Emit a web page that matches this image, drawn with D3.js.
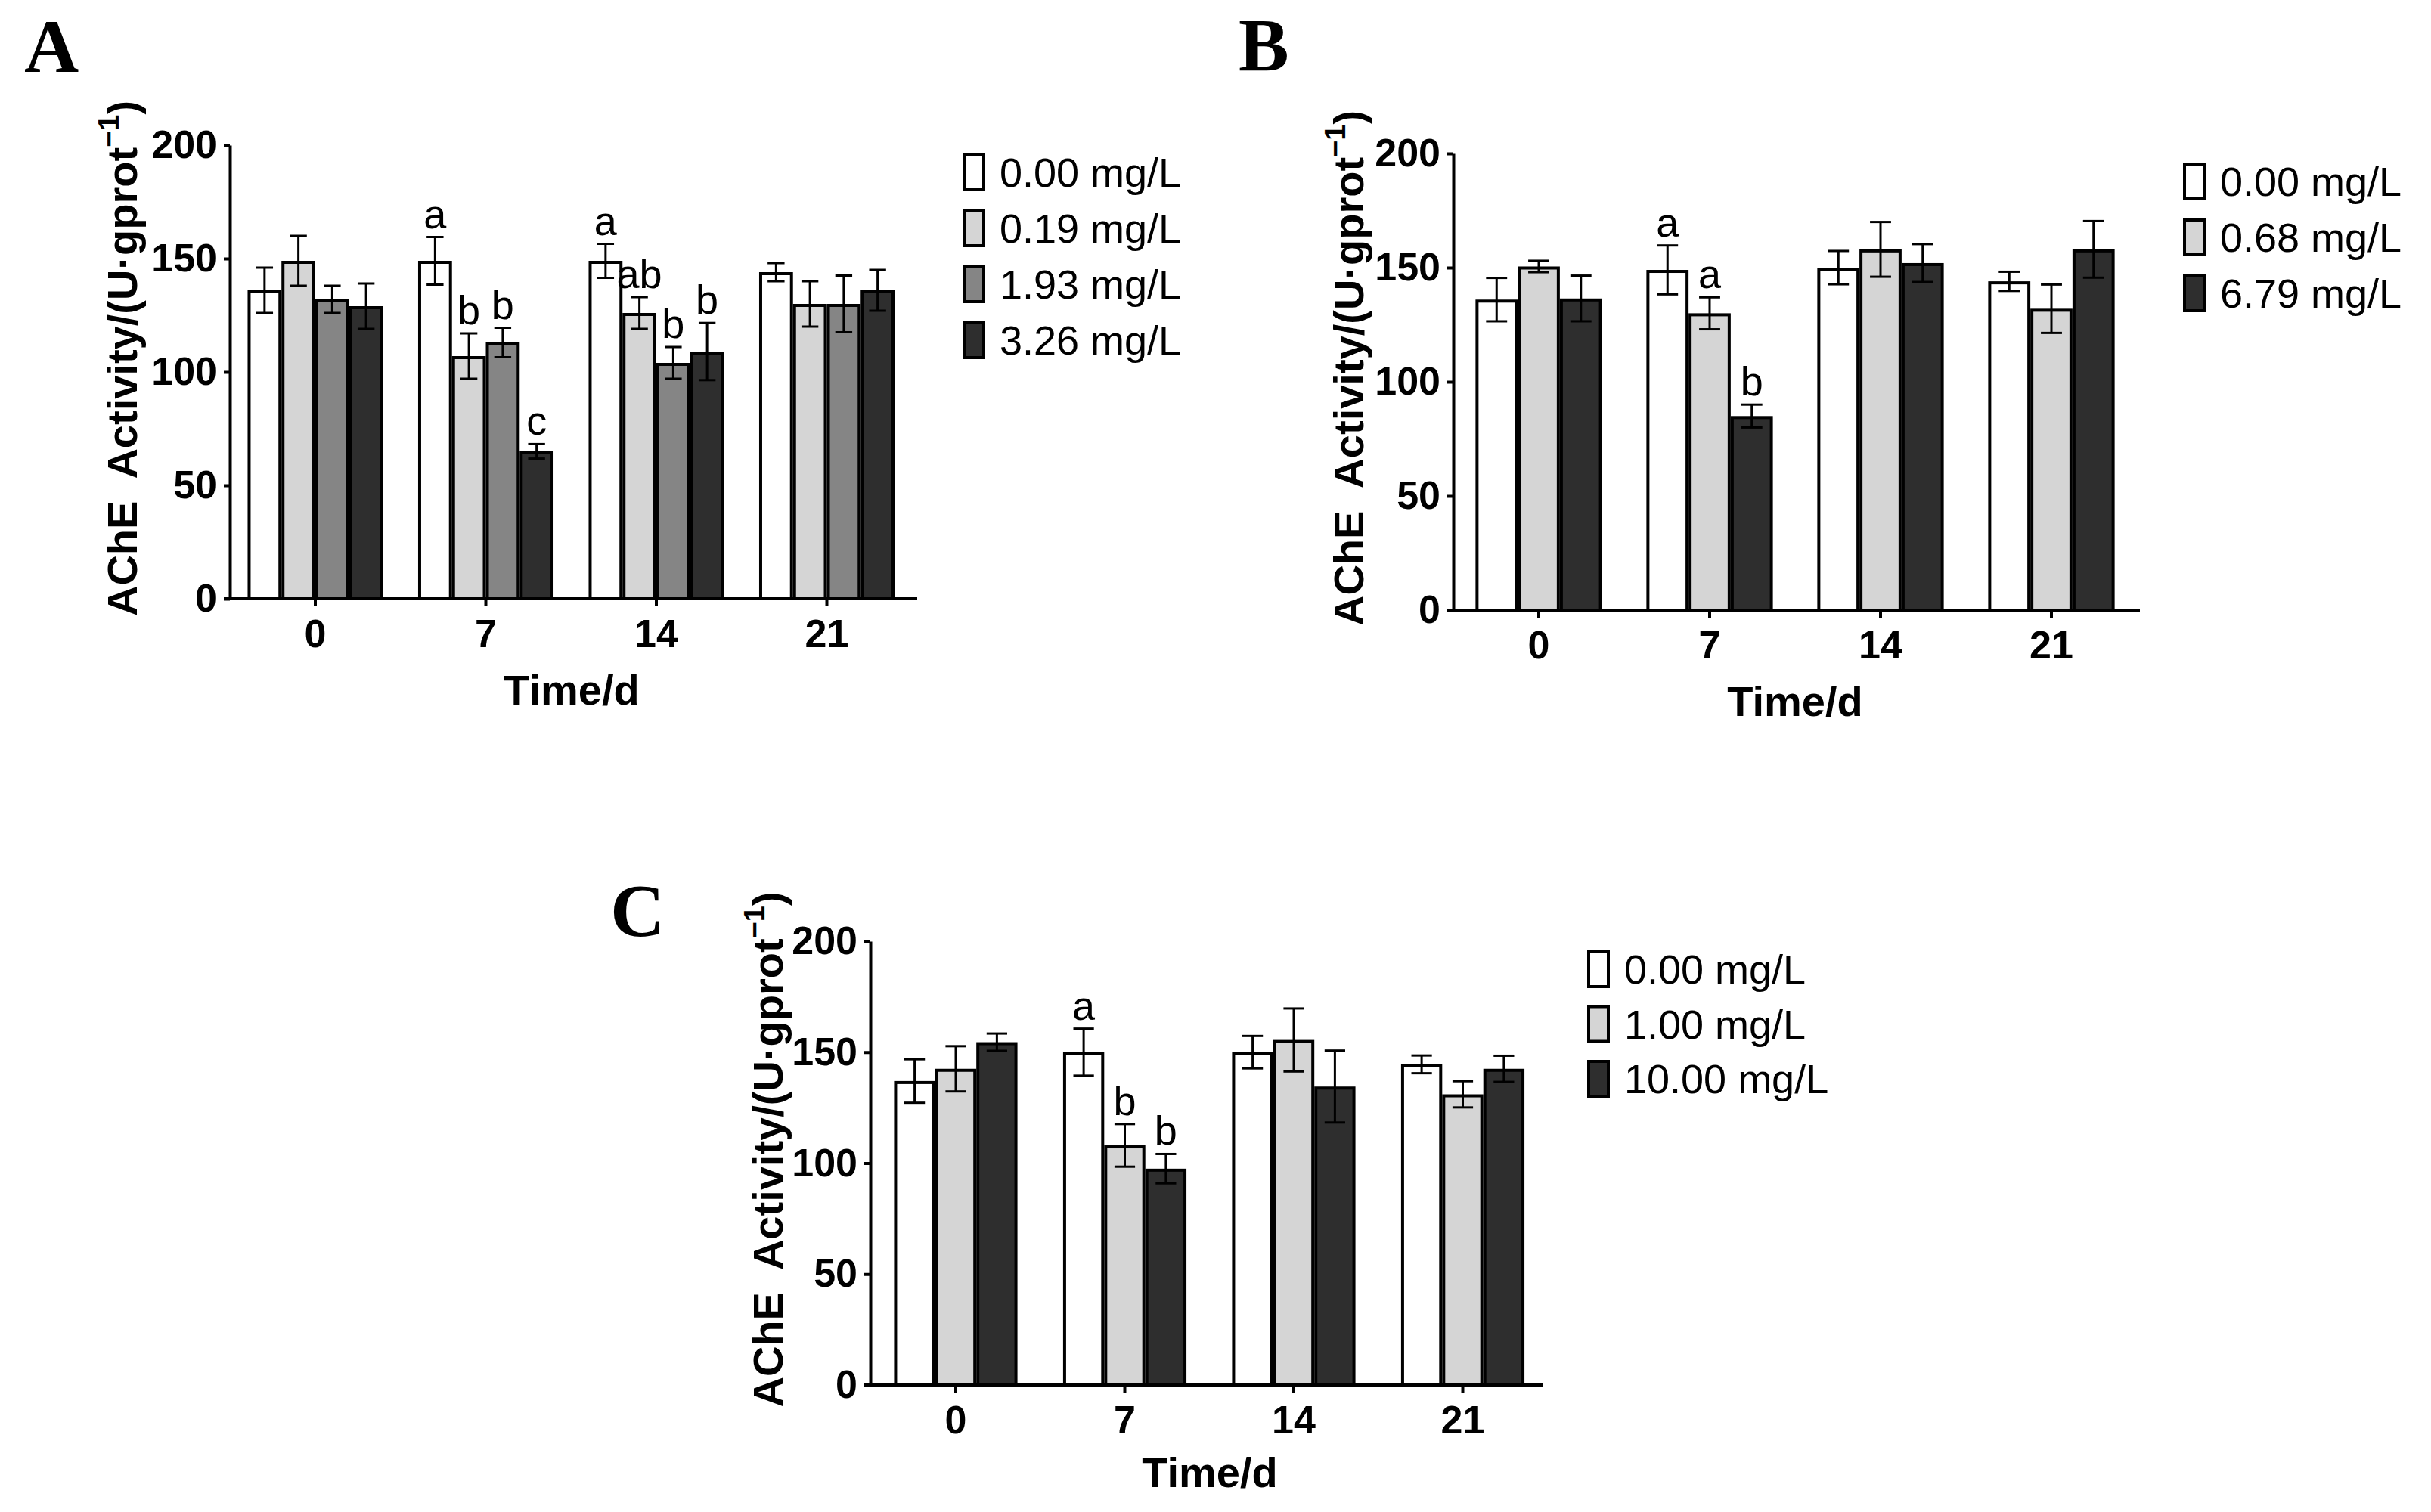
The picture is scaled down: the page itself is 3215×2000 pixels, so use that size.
<!DOCTYPE html>
<html>
<head>
<meta charset="utf-8">
<script src="https://cdn.jsdelivr.net/npm/d3@7"></script>
<style>
  body { margin: 0; background: #fff; }
  svg { display: block; }
</style>
</head>
<body>
<div id="chart-container"></div>
<script>
// Time points shared by the three panels
const days = ["0", "7", "14", "21"];
const yTicks = [0, 50, 100, 150, 200];

// Panel A: means / errors per concentration (series-major, one value per day)
const seriesA = ["0.00 mg/L", "0.19 mg/L", "1.93 mg/L", "3.26 mg/L"];
const meansA = [
    [136, 149, 149, 144],
    [149, 107, 126, 130],
    [132, 113, 104, 130],
    [129, 65, 109, 136]
];
const errA = [
    [10, 10.5, 7.5, 4],
    [11, 10, 7, 10],
    [6, 6.5, 7, 12.5],
    [10, 3.2, 12.6, 9]
];
const lettersA = [
    ["", "a", "a", ""],
    ["", "b", "ab", ""],
    ["", "b", "b", ""],
    ["", "c", "b", ""]
];

// Panel B
const seriesB = ["0.00 mg/L", "0.68 mg/L", "6.79 mg/L"];
const meansB = [
    [136, 149, 150, 144],
    [150.5, 130, 158, 132],
    [136.5, 85, 152, 158]
];
const errB = [
    [9.5, 10.7, 7.3, 4.2],
    [2.5, 7, 12, 10.6],
    [10, 5, 8.3, 12.4]
];
const lettersB = [
    ["", "a", "", ""],
    ["", "a", "", ""],
    ["", "b", "", ""]
];

// Panel C
const seriesC = ["0.00 mg/L", "1.00 mg/L", "10.00 mg/L"];
const meansC = [
    [137, 150, 150, 144.5],
    [142.5, 108, 155.5, 131],
    [154.5, 97.5, 134.5, 142.5]
];
const errC = [
    [9.8, 10.6, 7.3, 4],
    [10.2, 9.6, 14.2, 5.9],
    [3.9, 6.6, 16.2, 5.9]
];
const lettersC = [
    ["", "a", "", ""],
    ["", "b", "", ""],
    ["", "b", "", ""]
];

const white = "#ffffff", light = "#d5d5d5", mid = "#858585", dark = "#2e2e2e";

const svg = d3.select('#chart-container')
    .append('svg')
    .attr('width', 3215)
    .attr('height', 2000);

const SANS = "'Liberation Sans', Arial, sans-serif";
const SERIF = "'Liberation Serif', 'Times New Roman', serif";

function drawPanel(p) {
    const g = svg.append('g');

    // panel letter
    g.append('text')
        .attr('x', p.tag[0]).attr('y', p.tag[1])
        .attr('font-family', SERIF).attr('font-weight', 'bold')
        .attr('font-size', 100)
        .text(p.name);

    const y = d3.scaleLinear().domain([0, 200]).range([p.y0, p.y200]);

    // outer band: one per day, inner band: one per concentration
    const x = d3.scaleBand()
        .domain(days)
        .range([p.c0 - p.step / 2, p.c0 + p.step * 3.5])
        .paddingInner(p.pad)
        .paddingOuter(p.pad / 2);
    const xs = d3.scaleBand()
        .domain(p.series)
        .range([0, x.bandwidth()]);
    const bw = xs.bandwidth();

    // y axis
    const ya = g.append('g')
        .attr('transform', `translate(${p.ax},0)`)
        .call(d3.axisLeft(y).tickValues(yTicks).tickSize(8).tickSizeOuter(0).tickPadding(9));
    ya.selectAll('path, line').attr('stroke', '#000').attr('stroke-width', 4);
    ya.selectAll('text')
        .attr('font-family', SANS).attr('font-weight', 'bold')
        .attr('font-size', 52).attr('fill', '#000');

    // x axis
    const xa = g.append('g')
        .attr('transform', `translate(0,${p.y0})`)
        .call(d3.axisBottom(x).tickSize(10).tickSizeOuter(0).tickPadding(17));
    xa.select('.domain').attr('d', `M${p.ax - 8},0H${p.axEnd}`);
    xa.selectAll('path, line').attr('stroke', '#000').attr('stroke-width', 4);
    xa.selectAll('text')
        .attr('font-family', SANS).attr('font-weight', 'bold')
        .attr('font-size', 52).attr('fill', '#000');

    // bars
    p.series.forEach((s, si) => {
        const sg = g.append('g');
        sg.selectAll('rect')
            .data(days)
            .enter()
            .append('rect')
            .attr('x', d => x(d) + xs(s) + 2)
            .attr('y', (d, i) => y(p.means[si][i]) + 2)
            .attr('width', bw - 4)
            .attr('height', (d, i) => y(0) - y(p.means[si][i]) - 2)
            .attr('fill', p.fills[si])
            .attr('stroke', '#000')
            .attr('stroke-width', 4);
    });

    // error bars + letters on top of the bars
    p.series.forEach((s, si) => {
        const eg = g.append('g').attr('stroke', '#000').attr('stroke-width', 3);
        days.forEach((d, i) => {
            const cx = x(d) + xs(s) + bw / 2;
            const m = p.means[si][i], e = p.err[si][i];
            eg.append('line')
                .attr('x1', cx).attr('x2', cx)
                .attr('y1', y(m - e)).attr('y2', y(m + e));
            [m - e, m + e].forEach(v => {
                eg.append('line')
                    .attr('x1', cx - bw / 4).attr('x2', cx + bw / 4)
                    .attr('y1', y(v)).attr('y2', y(v));
            });
            const lab = p.letters[si][i];
            if (lab) {
                g.append('text')
                    .attr('x', cx).attr('y', y(m + e) - 12)
                    .attr('text-anchor', 'middle')
                    .attr('font-family', SANS).attr('font-size', 54)
                    .text(lab);
            }
        });
    });

    // y title
    const yt = g.append('text')
        .attr('transform', `translate(${p.titleX},${(p.y0 + p.y200) / 2 - 18}) rotate(-90)`)
        .attr('text-anchor', 'middle')
        .attr('font-family', SANS).attr('font-weight', 'bold')
        .attr('font-size', 56)
        .style('white-space', 'pre');
    yt.append('tspan').text('AChE  Activity/(U·gprot');
    yt.append('tspan').attr('font-size', 38).attr('dy', -24).text('−1');
    yt.append('tspan').attr('dy', 24).text(')');

    // x title
    g.append('text')
        .attr('x', p.xTitle[0]).attr('y', p.xTitle[1])
        .attr('text-anchor', 'middle')
        .attr('font-family', SANS).attr('font-weight', 'bold')
        .attr('font-size', 56)
        .text('Time/d');

    // legend
    const lg = g.append('g').attr('transform', `translate(${p.leg[0]},${p.leg[1]})`);
    p.series.forEach((s, si) => {
        const row = lg.append('g').attr('transform', `translate(0,${si * p.legStep})`);
        row.append('rect')
            .attr('x', 2).attr('y', 2)
            .attr('width', 26).attr('height', 46)
            .attr('fill', p.fills[si])
            .attr('stroke', '#000').attr('stroke-width', 4);
        row.append('text')
            .attr('x', 49).attr('y', 44)
            .attr('font-family', SANS).attr('font-size', 54)
            .text(s);
    });
}

drawPanel({
    name: "A", tag: [32, 95],
    series: seriesA, means: meansA, err: errA, letters: lettersA,
    fills: [white, light, mid, dark],
    ax: 304, axEnd: 1213, y0: 792, y200: 192,
    c0: 417, step: 225.5, pad: 0.206,
    titleX: 181, xTitle: [756, 932],
    leg: [1273, 203], legStep: 74
});

drawPanel({
    name: "B", tag: [1638, 93],
    series: seriesB, means: meansB, err: errB, letters: lettersB,
    fills: [white, light, dark],
    ax: 1922, axEnd: 2830, y0: 807, y200: 203,
    c0: 2035, step: 226, pad: 0.26,
    titleX: 1803, xTitle: [2374, 947],
    leg: [2887, 215], legStep: 74
});

drawPanel({
    name: "C", tag: [807, 1238],
    series: seriesC, means: meansC, err: errC, letters: lettersC,
    fills: [white, light, dark],
    ax: 1151, axEnd: 2040, y0: 1832, y200: 1245,
    c0: 1264, step: 223.5, pad: 0.27,
    titleX: 1035, xTitle: [1600, 1967],
    leg: [2099, 1257], legStep: 72.5
});
</script>
</body>
</html>
